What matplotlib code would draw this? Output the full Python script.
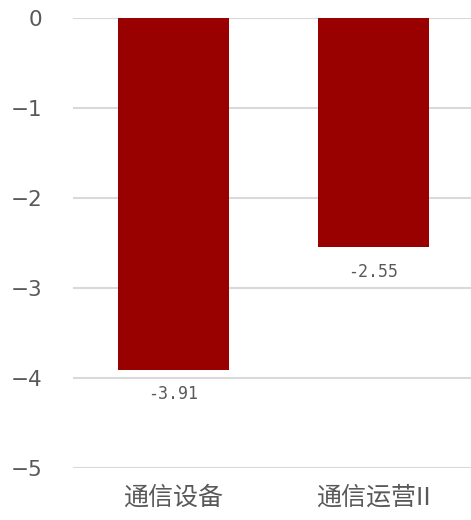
import matplotlib.pyplot as plt

plt.rcParams['font.family'] = ['Noto Sans CJK SC', 'DejaVu Sans']
plt.rcParams['axes.unicode_minus'] = True

categories = ["通信设备", "通信运营II"]
values = [-3.91, -2.55]
value_labels = ["-3.91", "-2.55"]
yticks = [0, -1, -2, -3, -4, -5]

fig = plt.figure(figsize=(4.71, 5.2), dpi=100)
ax = fig.add_axes([0.155, 0.1, 0.845, 0.8654])

x = list(range(len(categories)))
bars = ax.bar(x, values, width=0.555, color="#990000", zorder=2)

# valores debajo de cada barra
for bar, lab in zip(bars, value_labels):
    ax.annotate(lab, (bar.get_x() + bar.get_width() / 2, bar.get_height()),
                xytext=(0, -11), textcoords="offset points",
                ha="center", va="top", fontsize=12, color="#595959",
                family="DejaVu Sans Mono")

ax.set_xlim(-0.5, 1.49)
ax.set_ylim(-5, 0)
ax.set_yticks(yticks)
ax.set_yticklabels(["0", "\u22121", "\u22122", "\u22123", "\u22124", "\u22125"],
                   family="DejaVu Sans")
ax.set_xticks(x)
ax.set_xticklabels(categories)
ax.tick_params(axis="y", length=0, labelsize=15.5, labelcolor="#595959", pad=22)
ax.tick_params(axis="x", length=0, labelsize=18, labelcolor="#595959", pad=12)
ax.grid(axis="y", color="#d9d9d9", linewidth=1.5, zorder=0)
for s in ax.spines.values():
    s.set_visible(False)

fig.savefig("out.png", dpi=100)
